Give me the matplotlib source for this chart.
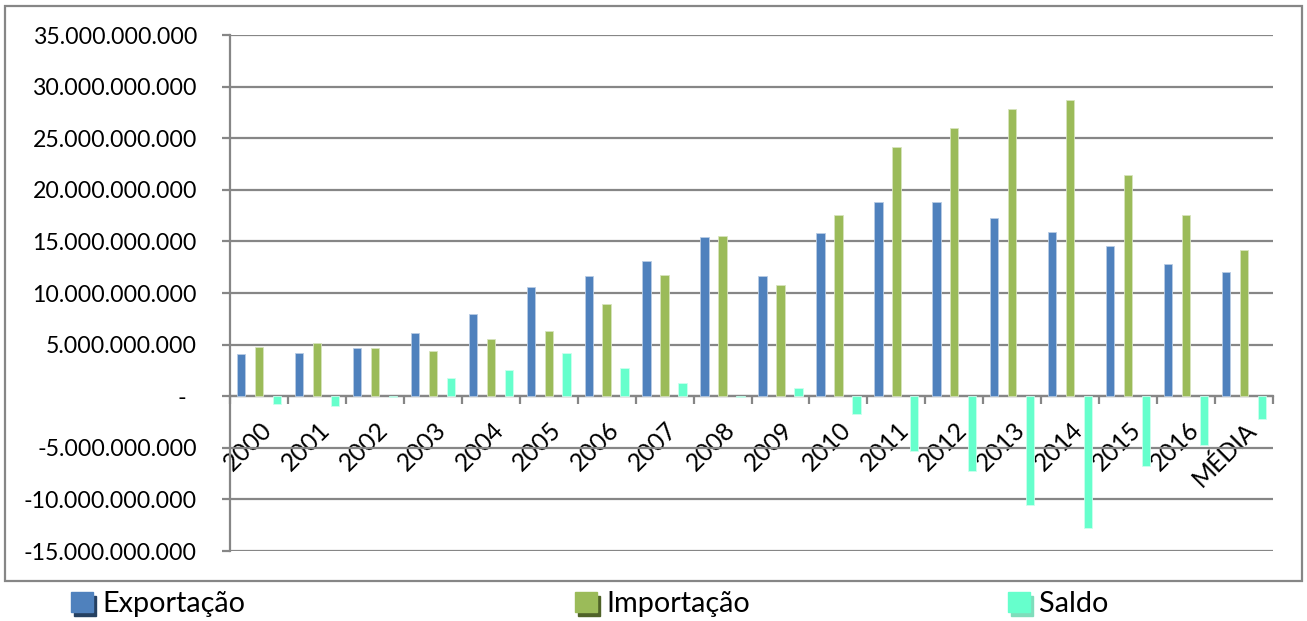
import matplotlib
matplotlib.use("Agg")
import matplotlib.pyplot as plt
import matplotlib.transforms as mtransforms
from matplotlib.patches import Rectangle
from matplotlib.ticker import FuncFormatter, MultipleLocator
import numpy as np

categories = ["2000", "2001", "2002", "2003", "2004", "2005", "2006", "2007", "2008",
              "2009", "2010", "2011", "2012", "2013", "2014", "2015", "2016", "MÉDIA"]
exportacao = [4.07, 4.2, 4.65, 6.1, 8.0, 10.55, 11.6, 13.1, 15.44,
              11.6, 15.86, 18.86, 18.77, 17.3, 15.9, 14.6, 12.8, 12.0]
importacao = [4.78, 5.14, 4.68, 4.36, 5.52, 6.33, 8.9, 11.75, 15.5,
              10.8, 17.6, 24.1, 26.0, 27.8, 28.7, 21.4, 17.6, 14.2]
saldo = [-0.74, -0.94, -0.03, 1.78, 2.52, 4.23, 2.78, 1.3, -0.06,
         0.8, -1.7, -5.3, -7.2, -10.5, -12.8, -6.8, -4.75, -2.2]
series_names = ["Exportação", "Importação", "Saldo"]
scale = 1e9

colors = ["#4F81BD", "#9BBB59", "#66FFCC"]
edge_colors = ["#B8CCE4", "#D7E4BD", "#CCFFEE"]
shadow_colors = ["#254061", "#4F6228", "#7FDDBB"]
grid_color = "#868686"
FONT = "Lato"

W, H = 1307, 621
fig = plt.figure(figsize=(W / 100, H / 100), dpi=100)
left, right, top, bottom = 230, 1273, 35, 551
ax = fig.add_axes([left / W, 1 - bottom / H, (right - left) / W, (bottom - top) / H])

x = np.arange(len(categories))
bw = 0.144
offs = [-0.31, 0.0, 0.31]
for vals, off, c, ec in zip([exportacao, importacao, saldo], offs, colors, edge_colors):
    ax.bar(x + off, np.array(vals) * scale, width=bw, color=c, edgecolor=ec,
           linewidth=0.6, zorder=3)

ax.set_xlim(-0.5, len(categories) - 0.5)
ax.set_ylim(-15e9, 35e9)
ax.yaxis.set_major_locator(MultipleLocator(5e9))


def fmt(v, pos):
    if abs(v) < 1:
        return "-"
    s = f"{int(round(v)):,}".replace(",", ".")
    return s


ax.yaxis.set_major_formatter(FuncFormatter(fmt))
ax.grid(axis="y", color=grid_color, linewidth=1.6, zorder=1)
ax.set_axisbelow(True)
for s in ["top", "right"]:
    ax.spines[s].set_visible(False)
ax.spines["left"].set_color(grid_color)
ax.spines["left"].set_linewidth(1.6)
ax.spines["bottom"].set_position(("data", 0))
ax.spines["bottom"].set_color(grid_color)
ax.spines["bottom"].set_linewidth(1.6)
ax.spines["bottom"].set_zorder(2)

ax.tick_params(axis="y", direction="out", length=5.8, width=1.6, color=grid_color,
               pad=18, labelsize=16.7)
ax.set_xticks(x)
ax.set_xticks(np.arange(len(categories) + 1) - 0.5, minor=True)
ax.tick_params(axis="x", which="major", length=0, pad=0, labelsize=17.8)
ax.tick_params(axis="x", which="minor", direction="out", length=5.8, width=1.6,
               color=grid_color)
ax.set_xticklabels(categories, rotation=45, ha="right", va="center",
                   rotation_mode="anchor")

off = mtransforms.ScaledTranslation(9 / 100, -30 / 100, fig.dpi_scale_trans)
for lab in ax.get_xticklabels():
    lab.set_fontfamily(FONT)
    lab.set_transform(lab.get_transform() + off)
fig.canvas.draw()
for lab in ax.get_yticklabels():
    lab.set_fontfamily(FONT)
    if lab.get_text() == "-":
        lab.set_transform(lab.get_transform() +
                          mtransforms.ScaledTranslation(-11 / 100, 0, fig.dpi_scale_trans))

# outer border
fig.patches.append(Rectangle((5 / W, 1 - 581 / H), (1302 - 5) / W, (581 - 6) / H,
                             transform=fig.transFigure, fill=False,
                             edgecolor=grid_color, linewidth=1.6))

# legend
leg_x = [71, 575, 1008]
for name, lx, c, sc in zip(series_names, leg_x, colors, shadow_colors):
    fig.patches.append(Rectangle(((lx + 3) / W, 1 - 616 / H), 22 / W, 20 / H,
                                 transform=fig.transFigure, color=sc, zorder=1))
    fig.patches.append(Rectangle((lx / W, 1 - 612 / H), 22 / W, 20 / H,
                                 transform=fig.transFigure, color=c, zorder=2))
    fig.text((lx + 31) / W, 1 - 604 / H, name, fontsize=20.8, family=FONT,
             ha="left", va="center")

fig.savefig("out.png", dpi=100)
